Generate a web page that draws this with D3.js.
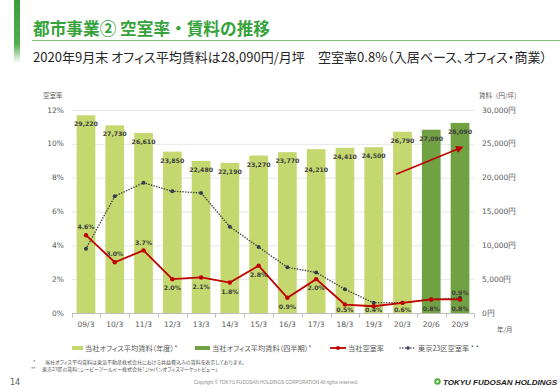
<!DOCTYPE html>
<meta charset="utf-8">
<style>
    body { margin: 0; background: #fff; }
    svg { display: block; }
    .jp { font-family: "Noto Sans CJK JP", sans-serif; }
    .palt { font-feature-settings: "palt"; }
    .num { font-family: "DejaVu Sans", sans-serif; }
</style>
<svg width="560" height="388"></svg>
<script src="https://cdn.jsdelivr.net/npm/d3@7"></script>
<script>

    // data
    var categories = ["09/3", "10/3", "11/3", "12/3", "13/3", "14/3", "15/3", "16/3", "17/3", "18/3", "19/3", "20/3", "20/6", "20/9"];
    var rent = [29220, 27730, 26610, 23850, 22480, 22190, 23270, 23770, 24210, 24410, 24500, 26790, 27090, 28090];
    var rentKind = ["year", "year", "year", "year", "year", "year", "year", "year", "year", "year", "year", "year", "quarter", "quarter"];
    var vacancy = [4.6, 3.0, 3.7, 2.0, 2.1, 1.8, 2.8, 0.9, 2.0, 0.5, 0.4, 0.6, 0.8, 0.8];
    var tokyoVacancy = [3.8, 6.9, 7.7, 7.2, 7.1, 5.1, 3.9, 2.7, 2.4, 1.4, 0.6, 0.6, 0.8, 0.9];
    var vacancyTicks = [0, 2, 4, 6, 8, 10, 12];
    var rentTicks = [0, 5000, 10000, 15000, 20000, 25000, 30000];
    // where the vacancy % labels sit
    var vacancyLabelSide = ["up", "up", "up", "down", "down", "down", "down", "down", "down", "down", "down", "down", "down", "down"];

    var lightGreen = "#c4d86f",
        darkGreen = "#70a143",
        red = "#c00000",
        dark = "#404040",
        grey = "#595959";

    var svg = d3.select("svg");

    var x = d3.scaleBand()
            .domain(categories)
            .range([71.6, 474.4])
            .paddingInner(0.35)
            .paddingOuter(0.175),
        yL = d3.scaleLinear().domain([0, 12]).range([313, 110]),
        yR = d3.scaleLinear().domain([0, 30000]).range([313, 110]);

    var cx = function(c) { return x(c) + x.bandwidth() / 2; };

    // header
    var grad = svg.append("defs").append("linearGradient")
            .attr("id", "side").attr("x1", 0).attr("y1", 0).attr("x2", 0).attr("y2", 1);
    grad.append("stop").attr("offset", "0%").attr("stop-color", "#3a9e3a");
    grad.append("stop").attr("offset", "70%").attr("stop-color", "#52ad4f");
    grad.append("stop").attr("offset", "100%").attr("stop-color", "#ffffff");
    svg.append("rect").attr("x", 14).attr("y", 0).attr("width", 6).attr("height", 63).attr("fill", "url(#side)");

    svg.append("text").attr("class", "jp")
            .attr("x", 33).attr("y", 35)
            .attr("font-size", 17).attr("font-weight", 700)
            .attr("fill", "#36a23a")
            .attr("textLength", 237).attr("lengthAdjust", "spacingAndGlyphs")
            .text("都市事業② 空室率・賃料の推移");
    svg.append("line")
            .attr("x1", 32).attr("x2", 560).attr("y1", 40.5).attr("y2", 40.5)
            .attr("stroke", "#7dc47a").attr("stroke-width", 1.2);
    svg.append("text").attr("class", "jp palt")
            .attr("x", 33).attr("y", 62)
            .attr("font-size", 13).attr("fill", "#262626")
            .attr("textLength", 514).attr("lengthAdjust", "spacingAndGlyphs")
            .text("2020年9月末 オフィス平均賃料は28,090円/月坪　空室率0.8%（入居ベース、オフィス・商業）");

    // grid
    svg.append("g").selectAll("line")
            .data(vacancyTicks.slice(1))
            .enter().append("line")
            .attr("x1", 72).attr("x2", 474)
            .attr("y1", function(d) { return yL(d) + 0.5; })
            .attr("y2", function(d) { return yL(d) + 0.5; })
            .attr("stroke", "#e0e0e0").attr("stroke-width", 0.8);

    // left axis
    svg.append("g").selectAll("text")
            .data(vacancyTicks)
            .enter().append("text").attr("class", "num")
            .attr("x", 64).attr("y", function(d) { return yL(d); })
            .attr("dy", "0.35em").attr("text-anchor", "end")
            .attr("font-size", 7.5).attr("fill", grey)
            .text(function(d) { return d + "%"; });

    // right axis
    svg.append("g").selectAll("text")
            .data(rentTicks)
            .enter().append("text").attr("class", "num")
            .attr("x", 482).attr("y", function(d) { return yR(d); })
            .attr("dy", "0.35em")
            .attr("font-size", 7.5).attr("fill", grey)
            .text(function(d) { return d3.format(",")(d) + "円"; });

    svg.append("text").attr("class", "jp").attr("x", 43).attr("y", 98)
            .attr("font-size", 6.5).attr("fill", grey).text("空室率");
    svg.append("text").attr("class", "jp").attr("x", 479).attr("y", 98)
            .attr("font-size", 6.5).attr("fill", grey).text("賃料（円/坪）");
    svg.append("text").attr("class", "jp").attr("x", 497).attr("y", 332)
            .attr("font-size", 6.5).attr("fill", grey).text("年/月");

    // bars
    svg.append("g").selectAll("rect")
            .data(categories)
            .enter().append("rect")
            .attr("x", function(d) { return x(d); })
            .attr("y", function(d, i) { return yR(rent[i]); })
            .attr("width", x.bandwidth())
            .attr("height", function(d, i) { return yR(0) - yR(rent[i]); })
            .attr("fill", function(d, i) { return rentKind[i] == "year" ? lightGreen : darkGreen; });

    svg.append("g").selectAll("text")
            .data(categories)
            .enter().append("text").attr("class", "num")
            .attr("x", cx)
            .attr("y", function(d, i) { return yR(rent[i]) + (d == "17/3" ? 23 : 11); })
            .attr("text-anchor", "middle")
            .attr("font-size", 6.2).attr("font-weight", 700).attr("fill", dark)
            .text(function(d, i) { return d3.format(",")(rent[i]); });

    // x axis
    svg.append("line")
            .attr("x1", 72).attr("x2", 474).attr("y1", 313.5).attr("y2", 313.5)
            .attr("stroke", "#bfbfbf").attr("stroke-width", 1);
    var bounds = categories.map(function(c) { return x(c) - x.step() * x.paddingInner() / 2; });
    bounds.push(474.4);
    svg.append("g").selectAll("line")
            .data(bounds)
            .enter().append("line")
            .attr("x1", function(d) { return Math.round(d) + 0.5; })
            .attr("x2", function(d) { return Math.round(d) + 0.5; })
            .attr("y1", 313.5).attr("y2", 317.5)
            .attr("stroke", "#bfbfbf");
    svg.append("g").selectAll("text")
            .data(categories)
            .enter().append("text").attr("class", "num")
            .attr("x", cx).attr("y", 324).attr("dy", "0.35em")
            .attr("text-anchor", "middle")
            .attr("font-size", 7.5).attr("fill", grey)
            .text(function(d) { return d; });

    // Tokyo 23 wards vacancy (dotted)
    var lineT = d3.line()
            .x(function(d, i) { return cx(categories[i]); })
            .y(function(d) { return yL(d); });
    svg.append("path")
            .attr("d", lineT(tokyoVacancy))
            .attr("fill", "none").attr("stroke", dark)
            .attr("stroke-width", 1.5).attr("stroke-dasharray", "0.1,2.6")
            .attr("stroke-linecap", "round");
    svg.append("g").selectAll("circle")
            .data(tokyoVacancy)
            .enter().append("circle")
            .attr("cx", function(d, i) { return cx(categories[i]); })
            .attr("cy", function(d) { return yL(d); })
            .attr("r", 2).attr("fill", "#333f50");

    // company vacancy
    svg.append("path")
            .attr("d", lineT(vacancy))
            .attr("fill", "none").attr("stroke", red)
            .attr("stroke-width", 1.8);
    svg.append("g").selectAll("circle")
            .data(vacancy)
            .enter().append("circle")
            .attr("cx", function(d, i) { return cx(categories[i]); })
            .attr("cy", function(d) { return yL(d); })
            .attr("r", 2.2).attr("fill", red);

    svg.append("g").selectAll("text")
            .data(vacancy)
            .enter().append("text").attr("class", "num")
            .attr("x", function(d, i) { return cx(categories[i]); })
            .attr("y", function(d, i) {
                var p = yL(d);
                return vacancyLabelSide[i] == "up" ? p - 8 : Math.min(p + 9, 310);
            })
            .attr("dy", "0.35em").attr("text-anchor", "middle")
            .attr("font-size", 6.2).attr("font-weight", 700).attr("fill", dark)
            .text(function(d) { return d.toFixed(1) + "%"; });

    var last = categories.length - 1;
    svg.append("text").attr("class", "num")
            .attr("x", cx(categories[last])).attr("y", yL(tokyoVacancy[last]) - 5)
            .attr("dy", "0.35em").attr("text-anchor", "middle")
            .attr("font-size", 6.2).attr("font-weight", 700).attr("fill", dark)
            .text(tokyoVacancy[last].toFixed(1) + "%");

    // red trend arrow
    svg.append("defs").append("marker")
            .attr("id", "arr").attr("viewBox", "0 0 10 10")
            .attr("refX", 8).attr("refY", 5)
            .attr("markerWidth", 5).attr("markerHeight", 5)
            .attr("orient", "auto")
            .append("path").attr("d", "M0,0L10,5L0,10z").attr("fill", red);
    svg.append("line")
            .attr("x1", x("20/3") + 3).attr("y1", yR(20500))
            .attr("x2", cx("20/9") + 2).attr("y2", yR(24500))
            .attr("stroke", red).attr("stroke-width", 1.5)
            .attr("marker-end", "url(#arr)");

    // legend
    var lg = svg.append("g").attr("class", "jp palt").attr("font-size", 7.2).attr("fill", grey);
    lg.append("rect").attr("x", 72).attr("y", 346).attr("width", 11).attr("height", 4).attr("fill", lightGreen);
    lg.append("text").attr("x", 85).attr("y", 350.5).text("当社オフィス平均賃料（年度）*");
    lg.append("rect").attr("x", 195).attr("y", 346).attr("width", 15).attr("height", 4).attr("fill", darkGreen);
    lg.append("text").attr("x", 212).attr("y", 350.5).text("当社オフィス平均賃料（四半期）*");
    lg.append("line").attr("x1", 330).attr("x2", 346).attr("y1", 348).attr("y2", 348)
            .attr("stroke", red).attr("stroke-width", 1.8);
    lg.append("circle").attr("cx", 338).attr("cy", 348).attr("r", 2).attr("fill", red);
    lg.append("text").attr("x", 348).attr("y", 350.5).text("当社空室率");
    lg.append("line").attr("x1", 400).attr("x2", 416).attr("y1", 348).attr("y2", 348)
            .attr("stroke", dark).attr("stroke-width", 1.5)
            .attr("stroke-dasharray", "0.1,2.6").attr("stroke-linecap", "round");
    lg.append("circle").attr("cx", 408).attr("cy", 348).attr("r", 1.8).attr("fill", "#333f50");
    lg.append("text").attr("x", 418).attr("y", 350.5).text("東京23区空室率 * *");

    // notes and footer
    var notes = svg.append("g").attr("class", "jp palt").attr("font-size", 5).attr("fill", grey);
    notes.append("text").attr("x", 33).attr("y", 364).text("*");
    notes.append("text").attr("x", 45).attr("y", 364).text("当社オフィス平均賃料は東急不動産株式会社における共益費込みの賃料を表示しております。");
    notes.append("text").attr("x", 31).attr("y", 371).text("**");
    notes.append("text").attr("x", 42).attr("y", 371).text("東京23区の賃料：シービーアールイー株式会社「ジャパンオフィスマーケットビュー」");

    svg.append("text").attr("class", "num").attr("x", 10).attr("y", 385)
            .attr("font-size", 8).attr("fill", grey).text("14");
    svg.append("text").attr("font-family", "Liberation Sans, sans-serif")
            .attr("x", 276).attr("y", 384).attr("text-anchor", "middle")
            .attr("font-size", 4.6).attr("fill", "#8c8c8c")
            .text("Copyright © TOKYU FUDOSAN HOLDINGS CORPORATION All rights reserved.");
    svg.append("circle").attr("cx", 437.5).attr("cy", 381.5).attr("r", 3.2).attr("fill", "#4caf3a");
    svg.append("circle").attr("cx", 437.5).attr("cy", 381.5).attr("r", 1.2).attr("fill", "#fff");
    svg.append("text").attr("font-family", "Liberation Sans, sans-serif")
            .attr("x", 443).attr("y", 384.5)
            .attr("font-size", 8).attr("font-weight", 700).attr("font-style", "italic")
            .attr("fill", "#1a1a1a")
            .text("TOKYU FUDOSAN HOLDINGS");
</script>
